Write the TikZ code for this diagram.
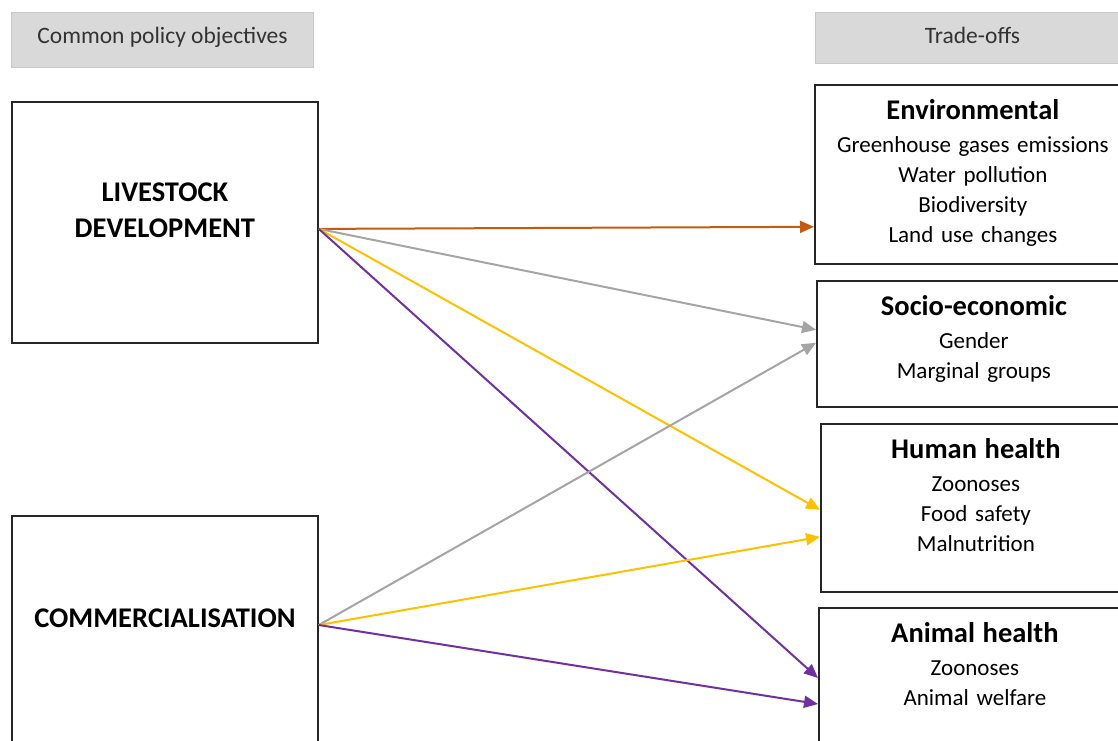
\documentclass[tikz,border=0pt]{standalone}
\usepackage{fontspec}
\setmainfont{Carlito}
\usetikzlibrary{arrows.meta,positioning}
\definecolor{headfill}{HTML}{D9D9D9}
\definecolor{headline}{HTML}{C8C8C8}
\definecolor{orangeline}{HTML}{C55A11}
\definecolor{greyline}{HTML}{A5A5A5}
\definecolor{yellowline}{HTML}{FFC000}
\definecolor{purpleline}{HTML}{7030A0}
\begin{document}
\begin{tikzpicture}[x=1pt,y=-1pt,>={Triangle[length=14pt,width=12pt]},line width=2pt,
  head/.style={draw=headline,fill=headfill,line width=1pt,inner sep=0pt,anchor=north west,
    text height=31pt,font=\fontsize{23.5}{27}\selectfont,text=black!80},
  policy/.style={draw=black!85,line width=1.8pt,text width=306pt,align=center,inner sep=0pt,
    anchor=north west,font=\bfseries\fontsize{28.5}{36}\selectfont},
  tradeoff/.style={draw=black!85,line width=1.8pt,text width=#1,align=center,inner sep=0pt,
    anchor=north west,text height=35pt,font=\fontsize{23}{30}\selectfont}]
  \useasboundingbox (0,0) rectangle (1118,740);
  \clip (0,0) rectangle (1118,740);

  % headers
  \node[head,minimum width=302pt,text depth=24pt] (hpolicy) at (11,12) {Common policy objectives};
  \node[head,minimum width=314pt,text depth=20pt] (htrade) at (815,12) {Trade-offs};

  % policy objectives
  \node[policy,text height=100pt,text depth=141pt] (live) at (11,101) {LIVESTOCK\\DEVELOPMENT};
  \node[policy,text height=112pt,text depth=250pt] (comm) at (11,515) {COMMERCIALISATION};

  % trade-offs
  \node[tradeoff=316pt,text depth=144pt] (env) at (814,84)
    {{\bfseries\fontsize{28.5}{30}\selectfont Environmental}\\[3pt]Greenhouse gases emissions\\Water pollution\\Biodiversity\\Land use changes};
  \node[tradeoff=314pt,text depth=91pt] (socio) at (816,280)
    {{\bfseries\fontsize{28.5}{30}\selectfont Socio-economic}\\[3pt]Gender\\Marginal groups};
  \node[tradeoff=310pt,text depth=133pt] (human) at (820,423)
    {{\bfseries\fontsize{28.5}{30}\selectfont Human health}\\[3pt]Zoonoses\\Food safety\\Malnutrition};
  \node[tradeoff=312pt,text depth=118pt] (animal) at (818,607)
    {{\bfseries\fontsize{28.5}{30}\selectfont Animal health}\\[3pt]Zoonoses\\Animal welfare};

  % links
  \draw[->,orangeline] ([yshift=-6.5pt]live.east) -- ([yshift=38pt]env.south west);
  \draw[->,greyline] ([yshift=-6.5pt]live.east) -- ([yshift=78pt]socio.south west);
  \draw[->,yellowline] ([yshift=-6.5pt]live.east) -- ([yshift=83pt]human.south west);
  \draw[->,purpleline] ([yshift=-6.5pt]live.east) -- ([yshift=-71pt]animal.north west);
  \draw[->,greyline] ([yshift=-110pt]comm.north east) -- ([yshift=65pt]socio.south west);
  \draw[->,yellowline] ([yshift=-110pt]comm.north east) -- ([yshift=56pt]human.south west);
  \draw[->,purpleline] ([yshift=-110pt]comm.north east) -- ([yshift=-97pt]animal.north west);
\end{tikzpicture}
\end{document}
